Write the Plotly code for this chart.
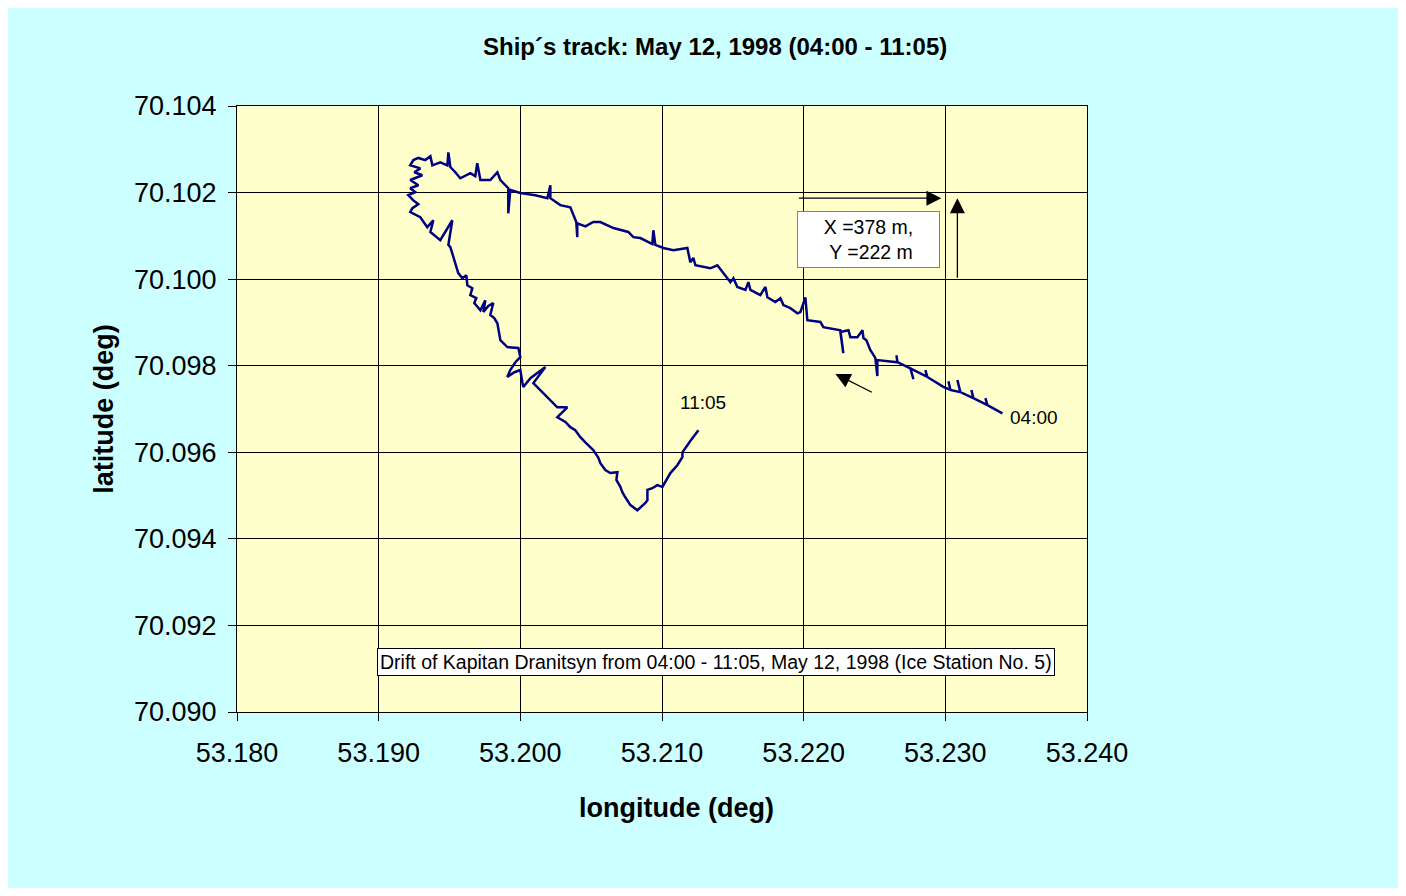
import plotly.graph_objects as go

# Ship track (longitude, latitude), 04:00 -> 11:05
lon = [53.23403, 53.23297, 53.23283, 53.23297, 53.23198, 53.23184, 53.23198, 53.23106, 53.23085, 53.23106,
       53.23036, 53.23022, 53.23036, 53.22986, 53.22873, 53.22859, 53.22873, 53.22753, 53.22775, 53.22753,
       53.22662, 53.22655, 53.22662, 53.22520, 53.22520, 53.22506, 53.22471, 53.22443, 53.22422, 53.22415,
       53.22379, 53.22330, 53.22316, 53.22259, 53.22280, 53.22259, 53.22139, 53.22118, 53.22026, 53.22012,
       53.21977, 53.21956, 53.21906, 53.21857, 53.21836, 53.21800, 53.21744, 53.21730, 53.21694, 53.21624,
       53.21610, 53.21589, 53.21532, 53.21504, 53.21483, 53.21412, 53.21391, 53.21341, 53.21236, 53.21221,
       53.21200, 53.21179, 53.21080, 53.21010, 53.20953, 53.20939, 53.20932, 53.20847, 53.20798, 53.20762,
       53.20657, 53.20565, 53.20515, 53.20459, 53.20402, 53.20402, 53.20395, 53.20353, 53.20282, 53.20212,
       53.20212, 53.20191, 53.20106, 53.20000, 53.19929, 53.19915, 53.19915, 53.19859, 53.19838, 53.19788,
       53.19718, 53.19696, 53.19682, 53.19647, 53.19576, 53.19541, 53.19506, 53.19492, 53.19485, 53.19435,
       53.19379, 53.19365, 53.19329, 53.19280, 53.19245, 53.19223,
       53.19294, 53.19252, 53.19308, 53.19223, 53.19280, 53.19223, 53.19259, 53.19209, 53.19245, 53.19280,
       53.19238, 53.19223, 53.19294, 53.19343, 53.19386, 53.19365, 53.19435, 53.19520,
       53.19492, 53.19506, 53.19527, 53.19541, 53.19562,
       53.19591, 53.19619, 53.19626, 53.19661, 53.19647, 53.19689, 53.19675, 53.19718, 53.19753, 53.19739,
       53.19774, 53.19809, 53.19788, 53.19816, 53.19838,
       53.19859, 53.19908, 53.19986, 53.20000, 53.19965,
       53.19929, 53.19908, 53.19958, 53.20000, 53.20014, 53.20021, 53.20071, 53.20177, 53.20092, 53.20141,
       53.20191, 53.20261, 53.20332, 53.20261, 53.20318, 53.20353, 53.20388, 53.20424, 53.20459, 53.20515,
       53.20551, 53.20565, 53.20600, 53.20635, 53.20685, 53.20678, 53.20706, 53.20720, 53.20741, 53.20777,
       53.20798, 53.20826, 53.20883, 53.20897, 53.20897, 53.20932, 53.20967, 53.21003, 53.21059, 53.21108,
       53.21144, 53.21144, 53.21200, 53.21257]
lat = [70.09690, 70.09709, 70.09725, 70.09709, 70.09725, 70.09744, 70.09725, 70.09739, 70.09767, 70.09739,
       70.09744, 70.09764, 70.09744, 70.09751, 70.09774, 70.09790, 70.09774, 70.09794, 70.09769, 70.09794,
       70.09808, 70.09824, 70.09808, 70.09813, 70.09776, 70.09818, 70.09836, 70.09859, 70.09864, 70.09882,
       70.09866, 70.09866, 70.09882, 70.09878, 70.09829, 70.09882, 70.09889, 70.09901, 70.09905, 70.09958,
       70.09924, 70.09921, 70.09933, 70.09940, 70.09956, 70.09947, 70.09958, 70.09982, 70.09963, 70.09975,
       70.09993, 70.09975, 70.09982, 70.10002, 70.09993, 70.10021, 70.10032, 70.10025, 70.10032, 70.10049,
       70.10039, 70.10072, 70.10067, 70.10072, 70.10079, 70.10113, 70.10081, 70.10095, 70.10097, 70.10109,
       70.10118, 70.10132, 70.10132, 70.10122, 70.10129, 70.10097, 70.10132, 70.10166, 70.10171, 70.10187,
       70.10217, 70.10187, 70.10194, 70.10199, 70.10206, 70.10152, 70.10210, 70.10229, 70.10247, 70.10229,
       70.10229, 70.10268, 70.10238, 70.10245, 70.10233, 70.10247, 70.10259, 70.10293, 70.10263, 70.10270,
       70.10263, 70.10284, 70.10275, 70.10280, 70.10275, 70.10263,
       70.10256, 70.10247, 70.10240, 70.10229, 70.10217, 70.10210, 70.10201, 70.10194, 70.10182, 70.10173,
       70.10164, 70.10155, 70.10143, 70.10120, 70.10136, 70.10109, 70.10090, 70.10136,
       70.10079, 70.10074, 70.10051, 70.10039, 70.10014,
       70.10002, 70.10009, 70.09986, 70.09979, 70.09963, 70.09956, 70.09945, 70.09928, 70.09951, 70.09924,
       70.09938, 70.09945, 70.09917, 70.09910, 70.09898,
       70.09859, 70.09843, 70.09841, 70.09820, 70.09808,
       70.09790, 70.09774, 70.09785, 70.09790, 70.09762, 70.09751, 70.09771, 70.09797, 70.09760, 70.09744,
       70.09727, 70.09704, 70.09704, 70.09681, 70.09670, 70.09658, 70.09651, 70.09635, 70.09623, 70.09605,
       70.09587, 70.09575, 70.09559, 70.09552, 70.09554, 70.09536, 70.09520, 70.09508, 70.09496, 70.09478,
       70.09473, 70.09466, 70.09483, 70.09489, 70.09513, 70.09517, 70.09524, 70.09520, 70.09552, 70.09570,
       70.09589, 70.09600, 70.09626, 70.09651]

x_ticks = [53.180, 53.190, 53.200, 53.210, 53.220, 53.230, 53.240]
x_tick_labels = ["53.180", "53.190", "53.200", "53.210", "53.220", "53.230", "53.240"]
y_ticks = [70.090, 70.092, 70.094, 70.096, 70.098, 70.100, 70.102, 70.104]
y_tick_labels = ["70.090", "70.092", "70.094", "70.096", "70.098", "70.100", "70.102", "70.104"]

title_text = "Ship´s track: May 12, 1998 (04:00 - 11:05)"
x_title = "longitude (deg)"
y_title = "latitude (deg)"
note_text = "Drift of Kapitan Dranitsyn from 04:00 - 11:05, May 12, 1998 (Ice Station No. 5)"
scale_text = "X =378 m,<br> Y =222 m"
start_label = "04:00"
end_label = "11:05"

FONT = "Liberation Sans, Arial, sans-serif"

fig = go.Figure()
fig.add_trace(go.Scatter(x=lon, y=lat, mode="lines",
                         line=dict(color="#000080", width=2.5), showlegend=False,
                         hoverinfo="x+y"))

axis_common = dict(showgrid=True, gridcolor="#000000", gridwidth=1,
                   showline=True, linecolor="#000000", linewidth=1, mirror=True,
                   ticks="outside", ticklen=8, tickcolor="#000000", zeroline=False,
                   tickfont=dict(family=FONT, size=27, color="#000000"))

fig.update_xaxes(range=[53.180, 53.240], tickvals=x_ticks, ticktext=x_tick_labels,
                 ticklabelstandoff=9, **axis_common)
fig.update_yaxes(range=[70.090, 70.104], tickvals=y_ticks, ticktext=y_tick_labels,
                 title=dict(text="<b>%s</b>" % y_title, font=dict(family=FONT, size=27, color="#000000"),
                            standoff=12),
                 ticklabelstandoff=6, **axis_common)

ann = []
ann.append(dict(text="<b>%s</b>" % title_text, xref="paper", yref="paper", x=0.5618, y=1.0974,
                xanchor="center", yanchor="middle", showarrow=False,
                font=dict(family=FONT, size=24, color="#000000")))
ann.append(dict(text="<b>%s</b>" % x_title, xref="paper", yref="paper", x=0.5176, y=-0.1584,
                xanchor="center", yanchor="middle", showarrow=False,
                font=dict(family=FONT, size=27, color="#000000")))
ann.append(dict(text=scale_text, x=53.22457, y=70.10092, xref="x", yref="y", showarrow=False,
                bgcolor="#FFFFFF", bordercolor="#808080", borderwidth=1, borderpad=2,
                width=137, height=51, align="center",
                font=dict(family=FONT, size=19.5, color="#000000")))
ann.append(dict(text=note_text, x=53.21384, y=70.09116, xref="x", yref="y", showarrow=False,
                bgcolor="#FFFFFF", bordercolor="#000000", borderwidth=1, borderpad=2,
                font=dict(family=FONT, size=19.5, color="#000000")))
ann.append(dict(text=end_label, x=53.21292, y=70.09716, xref="x", yref="y", showarrow=False,
                xanchor="center", yanchor="middle", font=dict(family=FONT, size=19, color="#000000")))
ann.append(dict(text=start_label, x=53.23445, y=70.09681, xref="x", yref="y", showarrow=False,
                xanchor="left", yanchor="middle", font=dict(family=FONT, size=19, color="#000000")))
# arrows
arrow_style = dict(text="", xref="x", yref="y", axref="x", ayref="y", showarrow=True,
                   arrowhead=2, arrowsize=2.3, arrowwidth=1.3, arrowcolor="#000000")
ann.append(dict(x=53.22972, y=70.10187, ax=53.21956, ay=70.10187, **arrow_style))
ann.append(dict(x=53.23085, y=70.10187, ax=53.23085, ay=70.10000, **arrow_style))
ann.append(dict(x=53.22224, y=70.09781, ax=53.22492, ay=70.09737, **arrow_style))

fig.update_layout(width=1390, height=880,
                  margin=dict(l=229, r=311, t=98, b=176, autoexpand=False),
                  paper_bgcolor="#CCFFFF", plot_bgcolor="#FFFFCC",
                  font=dict(family=FONT, color="#000000"),
                  annotations=ann, showlegend=False)

fig.write_html("out.html")
